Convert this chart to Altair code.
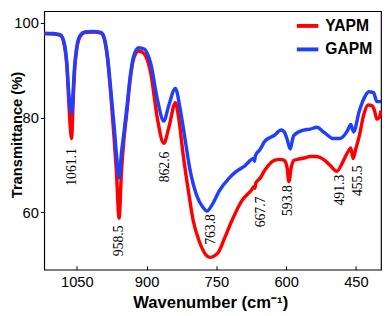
import altair as alt
import pandas as pd

# YAPM (red) spectrum
yapm_wn = [1120, 1100, 1085, 1077, 1071, 1067.5, 1064, 1061, 1058.5, 1055, 1050, 1043, 1033, 1015,
           998, 991, 984, 977, 970, 965, 959, 954, 949, 942, 935, 928, 917, 905, 891, 877, 863,
           852, 838, 831, 821, 810, 800, 786, 772, 764, 747, 733, 716, 695, 674, 669, 667, 665,
           656, 646, 625, 614, 604, 598, 594, 589, 583, 576, 561, 548, 536, 527, 517, 505, 491,
           477, 466, 461, 456, 450, 443, 433, 424, 415, 410, 405, 400, 396]
yapm_t = [97.8, 97.7, 97.4, 95.4, 90.5, 84.0, 78.0, 75.6, 81.5, 89.5, 94.5, 97.1, 98.0, 98.1,
          97.9, 96.6, 92.5, 85.0, 76.0, 69.0, 58.8, 68.5, 75.0, 81.5, 88.2, 92.4, 94.1, 93.5, 89.4, 80.0, 74.6,
          78.0, 83.2, 80.0, 71.9, 64.5, 58.4, 53.7, 51.0, 50.5, 51.4, 54.4, 58.4, 62.5, 64.8, 65.5, 65.1, 66.2,
          67.2, 68.9, 71.0, 71.2, 71.0, 69.5, 66.5, 69.5, 71.0, 71.2, 71.5, 71.8, 71.8, 71.6, 71.0, 69.9, 68.7,
          70.9, 73.0, 73.6, 71.4, 73.5, 76.0, 80.7, 82.7, 82.5, 81.5, 79.7, 80.0, 81.5]

# GAPM (blue) spectrum
gapm_wn = [1120, 1100, 1085, 1077, 1071, 1067.5, 1064, 1061, 1058.5, 1055, 1050, 1043, 1033, 1015,
           998, 991, 984, 977, 970, 965, 959, 954, 949, 942, 935, 928, 917, 905, 891, 877, 863,
           852, 838, 828, 817, 807, 793, 779, 770, 758, 744, 723, 709, 688, 670, 668, 666, 656,
           646, 625, 611, 604, 598, 591, 586, 583, 562, 548, 534, 520, 513, 499, 485, 468, 461,
           455, 443, 433, 422, 412, 405, 396]
gapm_t = [97.8, 97.8, 97.5, 95.8, 91.0, 85.5, 82.0, 81.0, 84.5, 90.5, 95.0, 97.4, 98.1, 98.2,
          98.0, 96.9, 93.0, 86.0, 78.5, 72.5, 67.3, 72.6, 76.5, 82.5, 88.9, 92.9, 94.8, 94.5, 91.4, 84.0, 79.3,
          82.7, 86.2, 82.0, 75.3, 69.2, 63.8, 61.1, 60.3, 61.8, 64.5, 67.2, 68.5, 69.9, 71.4, 70.8, 72.0, 73.3,
          75.0, 76.3, 77.4, 77.0, 75.5, 73.4, 75.5, 76.3, 77.4, 77.6, 78.0, 77.0, 76.5, 75.6, 75.6, 77.3, 78.6,
          77.0, 81.3, 84.0, 85.5, 85.3, 83.4, 83.4]

# Peak annotations
peak_labels = ["1061.1", "958.5", "862.6", "763.8", "667.7", "593.8", "491.3", "455.5"]
peak_wn = [1060.2, 958.5, 859.9, 761.3, 654.3, 595.6, 483.3, 444.5]
peak_t = [69.6, 54.0, 69.6, 56.4, 60.1, 62.5, 64.7, 66.7]

series = ["YAPM", "GAPM"]
colors = ["#FF0000", "#1F3FFF"]

df = pd.concat([
    pd.DataFrame({"wn": yapm_wn, "t": yapm_t, "series": "YAPM"}),
    pd.DataFrame({"wn": gapm_wn, "t": gapm_t, "series": "GAPM"}),
])
labels_df = pd.DataFrame({"label": peak_labels, "wn": peak_wn, "t": peak_t})

W, H = 344, 264

x = alt.X("wn:Q",
          scale=alt.Scale(domain=[1120, 396], nice=False, zero=False),
          axis=alt.Axis(values=[1050, 900, 750, 600, 450], format="d", grid=False,
                        domain=False, tickSize=4, offset=-4, tickColor="black",
                        labelPadding=5, labelFontSize=15, labelFont="Liberation Sans",
                        labelColor="black",
                        title="Wavenumber (cm⁻¹)", titleFontSize=17, titleFont="Liberation Sans",
                        titleFontWeight="bold", titleColor="black",
                        titleX=169.5, titleY=43, titleBaseline="alphabetic", titleAlign="center"))
y = alt.Y("t:Q",
          scale=alt.Scale(domain=[47.9, 102.5], nice=False, zero=False),
          axis=alt.Axis(values=[60, 80, 100], grid=False, domain=False, tickSize=4,
                        tickColor="black", labelPadding=2, labelFontSize=15,
                        labelFont="Liberation Sans", labelColor="black",
                        title="Transmittance (%)", titleFontSize=15, titleFont="Liberation Sans",
                        titleFontWeight="bold", titleColor="black", titleAngle=270,
                        titleX=-23, titleY=126, titleBaseline="alphabetic", titleAlign="center"))

color = alt.Color("series:N",
                  scale=alt.Scale(domain=series, range=colors),
                  legend=alt.Legend(title=None, orient="none", legendX=256, legendY=2,
                                    symbolType="stroke", symbolSize=484, symbolStrokeWidth=4,
                                    labelFontSize=16, labelFont="Liberation Sans",
                                    labelFontWeight="bold", labelColor="black",
                                    labelOffset=5, rowPadding=3, padding=0))

base = alt.Chart(df)
red = base.transform_filter(alt.datum.series == "YAPM").mark_line(
    strokeWidth=3.5, interpolate="monotone").encode(x=x, y=y, color=color, order="wn:Q")
blue = base.transform_filter(alt.datum.series == "GAPM").mark_line(
    strokeWidth=3.5, interpolate="monotone").encode(x=x, y=y, color=color, order="wn:Q")

text = alt.Chart(labels_df).mark_text(
    angle=270, align="center", baseline="middle", font="Liberation Serif",
    fontSize=14, color="black").encode(x="wn:Q", y="t:Q", text="label:N")

chart = alt.layer(red, blue, text).properties(
    width=W, height=H,
    autosize=alt.AutoSizeParams(type="none"),
    padding={"left": 37, "top": 0, "right": 1, "bottom": 44},
).configure_view(stroke="black", strokeWidth=1.2)

chart.save("out.html", embed_options={"renderer": "svg", "actions": False})
